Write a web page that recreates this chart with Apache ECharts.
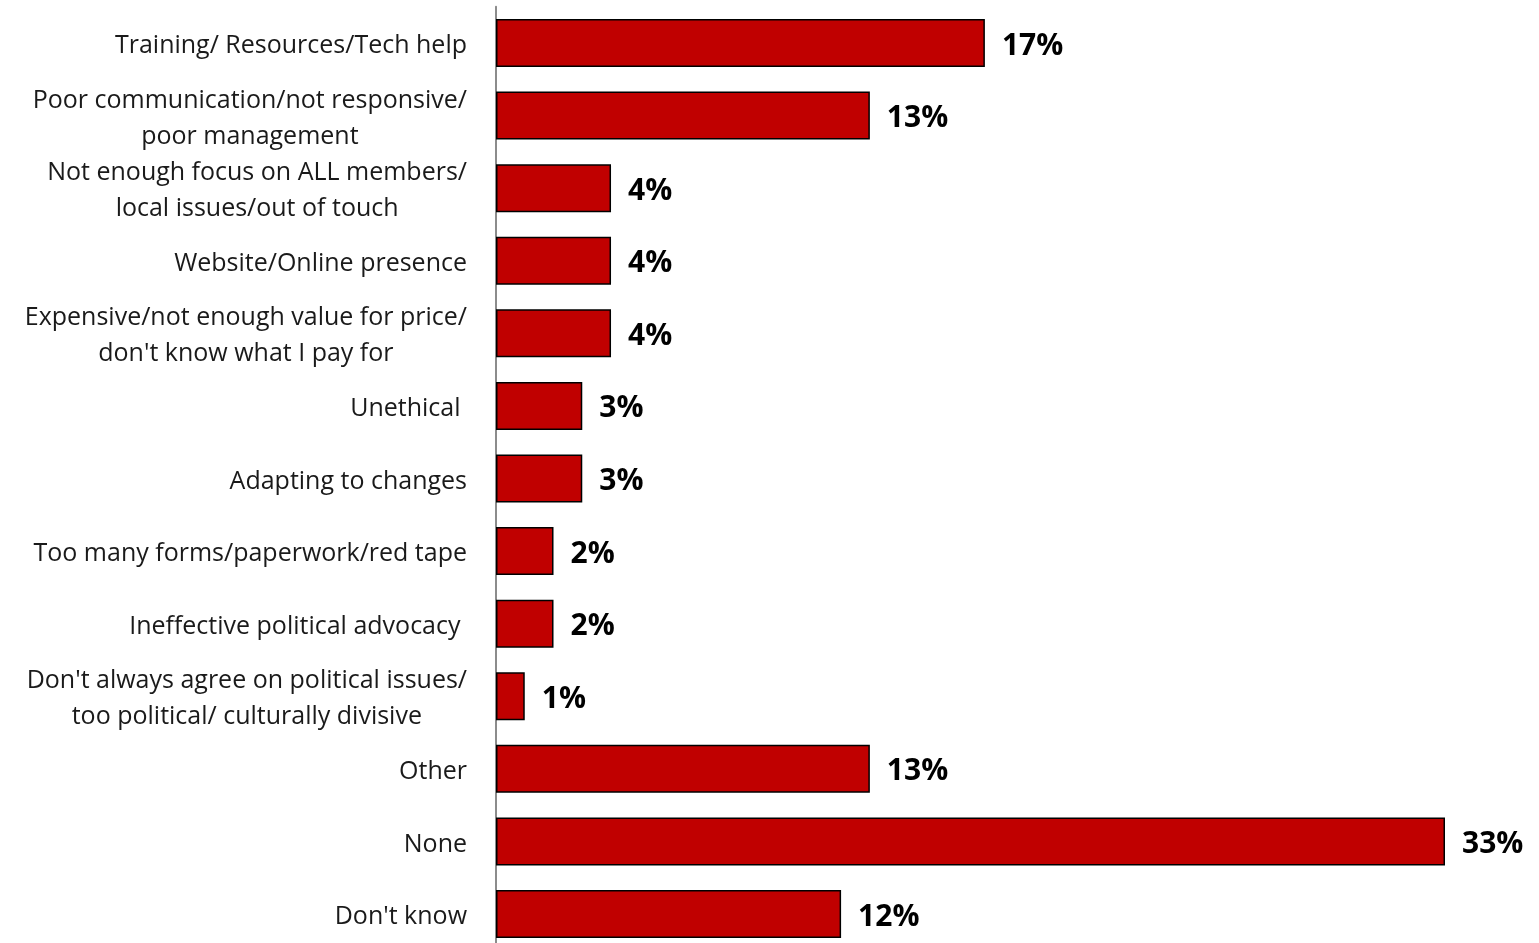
<!DOCTYPE html>
<html>
<head>
<meta charset="utf-8">
<script src="https://cdn.jsdelivr.net/npm/echarts@6/dist/echarts.min.js"></script>
<style>
  html, body { margin: 0; padding: 0; background: #fff; overflow: hidden; }
  #chart { width: 1539px; height: 960px; }
</style>
</head>
<body>
<div id="chart"></div>
<script>
// Reasons given, top to bottom
const categories = [
  'Training/ Resources/Tech help',
  'Poor communication/not responsive/\npoor management',
  'Not enough focus on ALL members/\nlocal issues/out of touch',
  'Website/Online presence',
  'Expensive/not enough value for price/\ndon\'t know what I pay for',
  'Unethical ',
  'Adapting to changes',
  'Too many forms/paperwork/red tape',
  'Ineffective political advocacy ',
  'Don\'t always agree on political issues/\ntoo political/ culturally divisive',
  'Other',
  'None',
  'Don\'t know'
];

// Share of respondents (%)
const values = [17, 13, 4, 4, 4, 3, 3, 2, 2, 1, 13, 33, 12];

const chart = echarts.init(document.getElementById('chart'), null, { renderer: 'canvas' });

// Each line of a wrapped category label is centred within its own block
const centredLines = v => v.split('\n').map(line => '{c|' + line + '}').join('\n');

chart.setOption({
  animation: false,
  backgroundColor: '#ffffff',
  grid: { left: 496, right: 94, top: 6.7, height: 943.6, containLabel: false },
  xAxis: {
    type: 'value',
    min: 0,
    max: 33,
    show: false
  },
  yAxis: {
    type: 'category',
    data: categories,
    inverse: true,
    axisLine: { show: true, lineStyle: { color: '#8c8c8c', width: 2 } },
    axisTick: { show: false },
    splitLine: { show: false },
    axisLabel: {
      margin: 29,
      align: 'right',
      padding: [6, 0, 0, 0],
      formatter: centredLines,
      rich: {
        c: {
          align: 'center',
          fontFamily: 'Open Sans',
          fontSize: 25,
          lineHeight: 36,
          color: '#1a1a1a'
        }
      }
    }
  },
  series: [{
    type: 'bar',
    data: values,
    barWidth: 48,
    itemStyle: { color: '#c00000', borderColor: '#000000', borderWidth: 1.5 },
    label: {
      show: true,
      position: 'right',
      distance: 17,
      offset: [0, 3],
      formatter: p => p.value + '%',
      fontFamily: 'Open Sans',
      fontWeight: 'bold',
      fontSize: 30,
      color: '#000000'
    }
  }]
});
</script>
</body>
</html>
